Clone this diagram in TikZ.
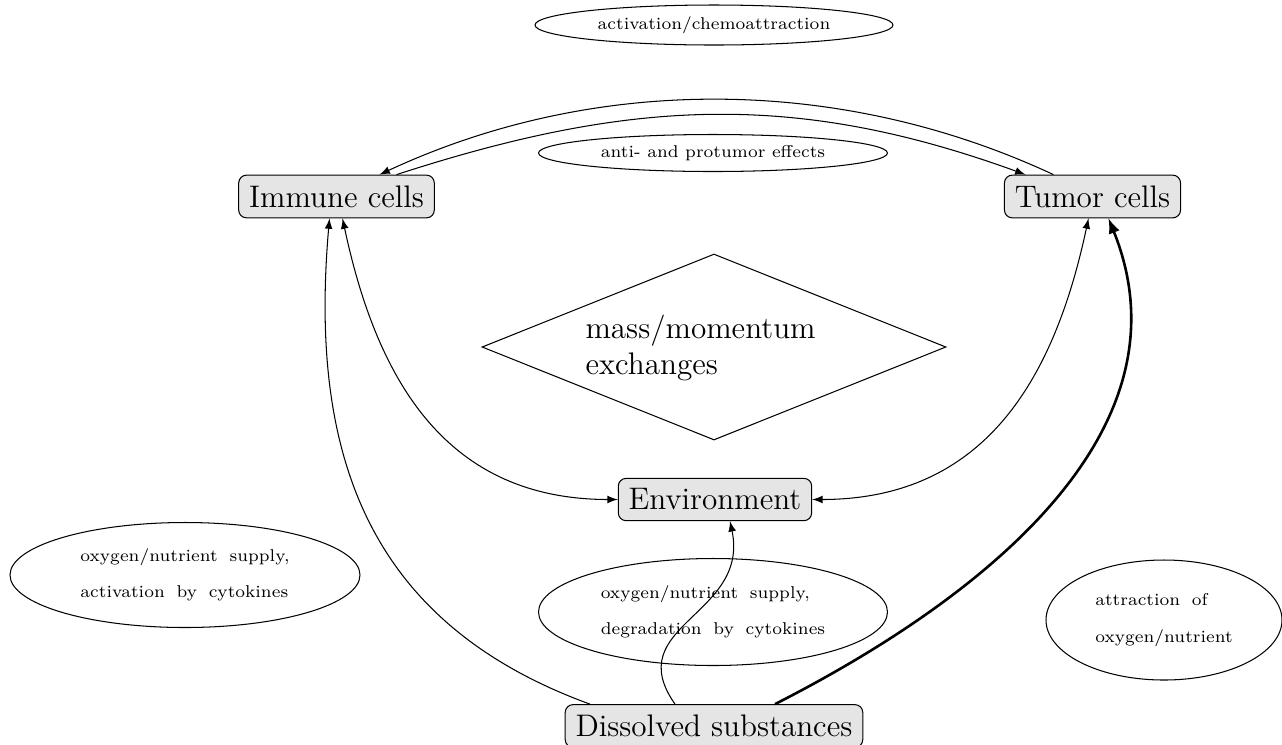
\documentclass[tikz,border=0pt]{standalone}
\usetikzlibrary{shapes.geometric,calc,arrows}
\begin{document}
\begin{tikzpicture}[x=0.385pt,y=-0.385pt,>=latex,
  box/.style={draw,rounded corners=3pt,fill=black!10,font=\large,inner sep=4pt},
  lab/.style={draw,ellipse,inner sep=0pt,font=\fontsize{6.6pt}{8pt}\selectfont},
  wide/.style={align=left,font={\fontsize{6.6pt}{8pt}\selectfont\spaceskip=4.5pt plus 1pt}},
  conn/.style={->,line width=0.4pt},
  biconn/.style={<->,line width=0.4pt},
]
\useasboundingbox (0,0) rectangle (1282,744);
% main nodes
\node[box] (immune) at (336.5,196.5) {Immune cells};
\node[box] (tumor) at (1092.5,196.5) {Tumor cells};
\node[box] (env) at (715,499.5) {Environment};
\node[box] (diss) at (714,726) {Dissolved substances};
% diamond
\node[draw,diamond,inner sep=0pt,minimum width=464*0.385pt,minimum height=186*0.385pt] (dia) at (714,347) {};
\node[anchor=west,inner sep=0pt,align=left,font=\large] (exch) at (585,348) {mass/momentum\\exchanges};
% labels
\node[lab,minimum width=358*0.385pt,minimum height=40*0.385pt] (act) at (714,25) {activation/chemoattraction};
\node[lab,minimum width=349*0.385pt,minimum height=37*0.385pt] (anti) at (713,153) {anti- and protumor effects};
\node[lab,wide,minimum width=350*0.385pt,minimum height=105*0.385pt] (lsup) at (185,575) {oxygen/nutrient supply,\\[6pt]activation by cytokines};
\node[lab,wide,minimum width=349*0.385pt,minimum height=107*0.385pt] (msup) at (713,612) {oxygen/nutrient supply,\\[6pt]degradation by cytokines};
\node[lab,wide,minimum width=236*0.385pt,minimum height=120*0.385pt] (ratt) at (1164,620) {attraction of\\[6pt]oxygen/nutrient};
% connectors
\draw[conn] ($(tumor.north)+(-39,0)$) to[out=155,in=25,looseness=0.9] ($(immune.north)+(43,0)$);
\draw[conn] ($(immune.north)+(60,0)$) to[out=18,in=160] ($(tumor.north)+(-67,0)$);
\draw[biconn] ($(immune.south)+(6,0)$) to[out=-78,in=180,looseness=1.1] (env.west);
\draw[biconn] ($(tumor.south)+(-4,0)$) to[out=-102,in=0,looseness=1.1] (env.east);
\draw[conn] ($(diss.north)+(-124,0)$) to[out=160,in=-95,looseness=1.1] ($(immune.south)+(-7,0)$);
\draw[->,line width=1pt] ($(diss.north)+(61,0)$) to[out=27,in=-68] ($(tumor.south)+(16,0)$);
\draw[conn] ($(diss.north)+(-39,0)$) to[out=125,in=-78,looseness=1.3] ($(env.south)+(15,0)$);
\end{tikzpicture}
\end{document}
